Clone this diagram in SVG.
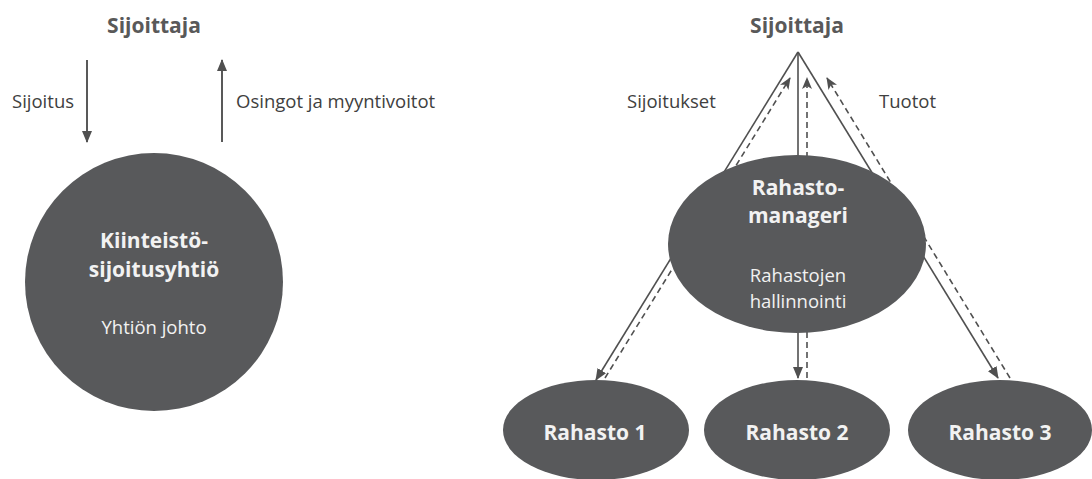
<svg xmlns="http://www.w3.org/2000/svg" width="1092" height="479" viewBox="0 0 1092 479">
  <defs>
    <style>
      .node { fill: #58595b; }
      .title { font-family: 'Open Sans', 'Noto Sans', sans-serif; font-weight: bold; font-size: 21px; fill: #595959; text-anchor: middle; }
      .label { font-family: 'Open Sans', 'Noto Sans', sans-serif; font-size: 18.5px; fill: #404040; }
      .nb { font-family: 'Open Sans', 'Noto Sans', sans-serif; font-weight: bold; font-size: 21px; fill: #f2f2f2; text-anchor: middle; }
      .nr { font-family: 'Open Sans', 'Noto Sans', sans-serif; font-size: 18.5px; fill: #f2f2f2; text-anchor: middle; }
      .solid { stroke: #505050; stroke-width: 1.6; fill: none; }
      .thick { stroke: #595959; stroke-width: 2; fill: none; }
      .dash { stroke: #505050; stroke-width: 1.6; fill: none; stroke-dasharray: 6 4; }
    </style>
    <marker id="ah" viewBox="0 0 12 10" refX="11" refY="5" markerWidth="12" markerHeight="10" markerUnits="userSpaceOnUse" orient="auto">
      <path d="M0,0 L12,5 L0,10 Z" fill="#505050"/>
    </marker>
    <marker id="ahd" viewBox="0 0 12 10" refX="11" refY="5" markerWidth="12" markerHeight="10" markerUnits="userSpaceOnUse" orient="auto">
      <path d="M0,0 L12,5 L0,10 L3,5 Z" fill="#505050"/>
    </marker>
  </defs>
  <rect width="1092" height="479" fill="#ffffff"/>

  <g id="connectors">
    <line class="thick" x1="87" y1="60" x2="87" y2="142" marker-end="url(#ah)"/>
    <line class="thick" x1="222" y1="142" x2="222" y2="60" marker-end="url(#ah)"/>
    <line class="solid" x1="798" y1="52" x2="596" y2="380" marker-end="url(#ah)"/>
    <line class="solid" x1="798" y1="52" x2="798" y2="378" marker-end="url(#ah)"/>
    <line class="solid" x1="798" y1="52" x2="998" y2="378" marker-end="url(#ah)"/>
    <line class="dash" x1="605" y1="378" x2="790" y2="78" marker-end="url(#ahd)"/>
    <line class="dash" x1="807" y1="378" x2="807" y2="78" marker-end="url(#ahd)"/>
    <line class="dash" x1="1010" y1="378" x2="827" y2="78" marker-end="url(#ahd)"/>
  </g>

  <g id="labels">
    <text class="title" x="154" y="33">Sijoittaja</text>
    <text class="title" x="797" y="33">Sijoittaja</text>
    <text class="label" x="12" y="108">Sijoitus</text>
    <text class="label" x="236" y="108">Osingot ja myyntivoitot</text>
    <text class="label" x="627" y="108">Sijoitukset</text>
    <text class="label" x="879" y="108">Tuotot</text>
  </g>

  <g id="kiinteistosijoitusyhtio">
    <circle class="node" cx="154" cy="282" r="129"/>
    <text class="nb" x="154" y="248">Kiinteistö-</text>
    <text class="nb" x="154" y="277">sijoitusyhtiö</text>
    <text class="nr" x="154" y="334">Yhtiön johto</text>
  </g>

  <g id="rahastomanageri">
    <ellipse class="node" cx="797" cy="244" rx="129" ry="89"/>
    <text class="nb" x="798" y="195">Rahasto-</text>
    <text class="nb" x="798" y="223">manageri</text>
    <text class="nr" x="798" y="282">Rahastojen</text>
    <text class="nr" x="798" y="308">hallinnointi</text>
  </g>

  <g id="rahasto1">
    <ellipse class="node" cx="596" cy="430" rx="93" ry="50"/>
    <text class="nb" x="595" y="440">Rahasto 1</text>
  </g>
  <g id="rahasto2">
    <ellipse class="node" cx="797" cy="430" rx="93" ry="50"/>
    <text class="nb" x="797" y="440">Rahasto 2</text>
  </g>
  <g id="rahasto3">
    <ellipse class="node" cx="1000" cy="430" rx="92" ry="50"/>
    <text class="nb" x="1000" y="440">Rahasto 3</text>
  </g>
</svg>
